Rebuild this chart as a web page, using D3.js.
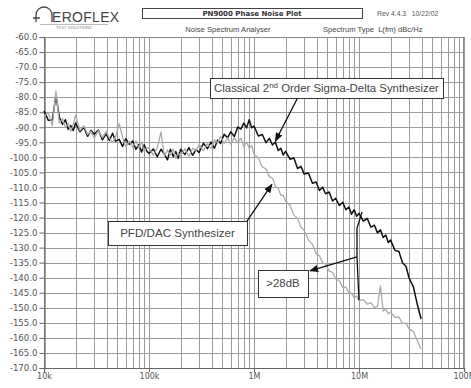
<!DOCTYPE html>
<html><head><meta charset="utf-8">
<script src="https://cdn.jsdelivr.net/npm/d3@7"></script>
<style>body{margin:0;background:#fff}svg{display:block}</style>
</head><body>
<svg id="c" width="471" height="388"></svg>
<script>
// ---- data (offset frequency in kHz, phase noise in dBc/Hz) ----
const freqKHz = [
  10,11,12,13,14,15,16,17,18,19,20,22,24,26,28,30,33,36,39,42,45,48,52,56,60,65,70,75,80,85,90,95,
  100,110,120,130,140,150,160,170,180,190,200,220,240,260,280,300,330,360,390,420,450,480,520,560,600,650,700,750,800,850,900,950,
  1000,1100,1200,1300,1400,1500,1600,1700,1800,1900,2000,2200,2400,2600,2800,3000,3300,3600,3900,4200,4500,4800,5200,5600,6000,6500,7000,7500,8000,8500,9000,9500,
  10000,11000,12000,13000,14000,15000,16000,17000,18000,19000,20000,22000,24000,26000,28000,30000,33000,36000,39000
];
const sigmaDeltaDb = [
  -84.5,-87.7,-87.6,-79.5,-86.7,-89.0,-87.5,-90.7,-89.4,-91.1,-88.6,-91.5,-90.1,-93.0,-91.0,-92.3,-90.9,-94.2,-92.2,-94.4,-92.0,-94.6,-94.0,-96.4,-93.8,-95.7,-94.6,-97.3,-95.8,-98.2,-95.8,-97.9,
  -98.7,-97.2,-99.8,-97.3,-98.9,-100.8,-97.3,-99.7,-98.1,-100.3,-97.3,-99.1,-96.8,-99.3,-97.4,-98.4,-95.3,-97.1,-94.9,-97.0,-94.2,-95.4,-92.3,-93.5,-91.5,-93.1,-89.9,-90.6,-88.6,-90.2,-87.5,-90.2,
  -89.6,-92.9,-92.4,-95.1,-93.7,-95.9,-94.9,-97.7,-97.0,-99.2,-98.0,-100.6,-100.2,-103.7,-103.0,-105.5,-105.2,-108.6,-108.2,-111.0,-109.9,-112.1,-111.5,-114.5,-113.6,-116.0,-114.9,-117.4,-116.5,-118.9,-117.4,-119.6,
  -118.6,-121.2,-120.3,-123.2,-122.5,-125.1,-124.1,-126.6,-125.8,-128.3,-127.5,-130.9,-131.3,-135.1,-136.2,-140.1,-143.1,-149.0,-153.7
];
const pfdDacDb = [
  -86.4,-85.2,-89.5,-78.0,-88.6,-87.1,-90.2,-88.6,-91.3,-89.0,-86.0,-91.1,-89.5,-92.4,-91.3,-93.6,-91.1,-93.5,-91.4,-93.6,-95.1,-93.1,-88.8,-93.3,-96.5,-94.7,-96.6,-94.6,-96.8,-94.9,-98.1,-96.8,
  -96.9,-99.3,-96.8,-91.5,-99.6,-97.5,-99.3,-97.2,-100.3,-98.5,-99.5,-97.1,-99.7,-97.0,-97.8,-95.7,-97.8,-95.5,-97.1,-94.2,-95.2,-93.0,-95.4,-93.5,-95.6,-93.5,-95.2,-93.6,-96.5,-94.9,-97.0,-96.0,
  -99.0,-100.2,-103.2,-103.8,-106.4,-106.9,-109.6,-110.3,-112.6,-112.6,-114.6,-115.9,-119.2,-120.3,-123.2,-124.2,-127.5,-128.9,-131.9,-132.7,-135.1,-135.4,-137.8,-138.2,-140.4,-141.0,-143.2,-143.1,-145.0,-145.1,-146.6,-146.1,
  -147.6,-147.3,-148.8,-148.3,-149.9,-149.5,-142.7,-151.1,-150.5,-152.0,-151.4,-153.2,-153.1,-155.2,-155.1,-157.0,-157.9,-161.0,-163.7
];
const yTickValues = [-60,-65,-70,-75,-80,-85,-90,-95,-100,-105,-110,-115,-120,-125,-130,-135,-140,-145,-150,-155,-160,-165,-170];
const xTickValues = [1e4,1e5,1e6,1e7,1e8];
const xTickLabels = ["10k","100k","1M","10M","100M"];
const labelSigmaDelta = "Classical 2";
const labelPfd = "PFD/DAC Synthesizer";
const labelDiff = ">28dB";

// ---- layout ----
const plot = {left: 44, right: 464, top: 37, bottom: 368};
const svg = d3.select("#c");
const x = d3.scaleLog().domain([1e4, 1e8]).range([plot.left, plot.right]);
const y = d3.scaleLinear().domain([-170, -60]).range([plot.bottom, plot.top]);

// header
const hdr = svg.append("g");
hdr.append("path")
  .attr("d", "M36,22 L36,15 A8,8 0 0 1 52,15 L52,22 M33,18 L40,18")
  .attr("fill","none").attr("stroke","#444").attr("stroke-width",1.3);
hdr.append("text").attr("x",52).attr("y",22).text("EROFLEX")
  .attr("font-family","Liberation Sans, Arial").attr("font-size",14).attr("fill","#444").attr("letter-spacing","0.3");
hdr.append("line").attr("x1",40).attr("x2",108).attr("y1",24.5).attr("y2",24.5).attr("stroke","#888").attr("stroke-width",0.6);
hdr.append("text").attr("x",56).attr("y",29).text("TEST SOLUTIONS")
  .attr("font-family","DejaVu Sans").attr("font-size",4.2).attr("fill","#888");
hdr.append("rect").attr("x",142.5).attr("y",8.5).attr("width",220).attr("height",10)
  .attr("fill","#fff").attr("stroke","#444").attr("stroke-width",1);
hdr.append("text").attr("x",252).attr("y",16.3).attr("text-anchor","middle").text("PN9000 Phase Noise Plot")
  .attr("font-family","DejaVu Sans").attr("font-weight","bold").attr("font-size",7).attr("fill","#333");
hdr.append("text").attr("x",377).attr("y",16).text("Rev 4.4.3   10/22/02")
  .attr("font-family","Liberation Sans, Arial").attr("font-size",6.8).attr("fill","#555").attr("xml:space","preserve");
hdr.append("text").attr("x",228).attr("y",32).attr("text-anchor","middle").text("Noise Spectrum Analyser")
  .attr("font-family","Liberation Sans, Arial").attr("font-size",7.6).attr("fill","#444");
hdr.append("text").attr("x",323).attr("y",32).text("Spectrum Type  L(fm) dBc/Hz")
  .attr("font-family","Liberation Sans, Arial").attr("font-size",7.6).attr("fill","#444").attr("xml:space","preserve");

// grid
const grid = svg.append("g");
grid.selectAll("line.h").data(yTickValues).join("line")
  .attr("x1",plot.left).attr("x2",plot.right)
  .attr("y1",d=>Math.round(y(d))+0.5).attr("y2",d=>Math.round(y(d))+0.5)
  .attr("stroke","#9a9a9a").attr("stroke-width",1);
grid.selectAll("line.v").data(x.ticks()).join("line")
  .attr("y1",plot.top).attr("y2",plot.bottom)
  .attr("x1",d=>Math.round(x(d))+0.5).attr("x2",d=>Math.round(x(d))+0.5)
  .attr("stroke","#9a9a9a").attr("stroke-width",1);
svg.append("rect").attr("x",plot.left+0.5).attr("y",plot.top+0.5)
  .attr("width",plot.right-plot.left-1).attr("height",plot.bottom-plot.top)
  .attr("fill","none").attr("stroke","#8a8a8a").attr("stroke-width",1);

// axes
const yAxis = d3.axisLeft(y).tickValues(yTickValues).tickFormat(d=>d.toFixed(1)).tickSize(5).tickPadding(2);
const gy = svg.append("g").attr("transform",`translate(${plot.left+0.5},0)`).call(yAxis);
const xAxis = d3.axisBottom(x).tickValues(xTickValues).tickFormat((d,i)=>xTickLabels[i]).tickSize(4).tickPadding(1);
const gx = svg.append("g").attr("transform",`translate(0,${plot.bottom})`).call(xAxis);
[gy,gx].forEach(g=>{
  g.select(".domain").attr("stroke","#666").attr("stroke-width",1.2);
  g.selectAll(".tick line").attr("stroke","#666");
  g.selectAll("text").attr("font-family","DejaVu Sans").attr("font-size",8.6).attr("fill","#555");
});
gx.selectAll("text").attr("font-size",8);

// traces
const rowsSD = freqKHz.map((f,i)=>({f:f*1000, v:sigmaDeltaDb[i]}));
const rowsPFD = freqKHz.map((f,i)=>({f:f*1000, v:pfdDacDb[i]}));
const line = d3.line().x(d=>x(d.f)).y(d=>y(d.v));
svg.append("path").datum(rowsSD).attr("d",line).attr("fill","none")
  .attr("stroke","#111").attr("stroke-width",1.5).attr("stroke-linejoin","round");
svg.append("path").datum(rowsPFD).attr("d",line).attr("fill","none")
  .attr("stroke","#ababab").attr("stroke-width",1.3).attr("stroke-linejoin","round");

// annotations (anchored in data space)
const defs = svg.append("defs");
defs.append("marker").attr("id","ah").attr("viewBox","0 0 10 10").attr("refX",9).attr("refY",5)
  .attr("markerWidth",7).attr("markerHeight",7).attr("orient","auto-start-reverse")
  .append("path").attr("d","M0,1 L10,5 L0,9 z").attr("fill","#111");
const P = (f,v)=>[x(f),y(v)];
const ann = svg.append("g");
function box(f0,v0,f1,v1){
  const [x0,y0]=P(f0,v0),[x1,y1]=P(f1,v1);
  ann.append("rect").attr("x",Math.round(x0)+0.5).attr("y",Math.round(y0)+0.5)
    .attr("width",Math.round(x1-x0)).attr("height",Math.round(y1-y0))
    .attr("fill","#fff").attr("stroke","#333").attr("stroke-width",1);
  return [x0,y0,x1,y1];
}
function arrow(pts, head){
  ann.append("path").attr("d",d3.line()(pts.map(p=>P(p[0],p[1]))))
    .attr("fill","none").attr("stroke","#111").attr("stroke-width",1.3)
    .attr("marker-end",head?"url(#ah)":null);
}
arrow([[2.57e6,-80.6],[1.6e6,-94.6]], true);
let b = box(3.81e5,-73.6,6.3e7,-80.3);
const t1 = ann.append("text").attr("x",(b[0]+b[2])/2).attr("y",b[1]+14.5).attr("text-anchor","middle")
  .attr("font-family","Liberation Sans, Arial").attr("font-size",11.4).attr("fill","#444");
t1.append("tspan").text(labelSigmaDelta);
t1.append("tspan").text("nd").attr("font-size",8).attr("dy",-4.5);
t1.append("tspan").text(" Order Sigma-Delta Synthesizer").attr("dy",4.5);
arrow([[8.57e5,-121.2],[1.48e6,-109.0]], true);
b = box(4.07e4,-121.1,8.57e5,-129.1);
ann.append("text").attr("x",(b[0]+b[2])/2).attr("y",b[1]+16.5).attr("text-anchor","middle").text(labelPfd)
  .attr("font-family","Liberation Sans, Arial").attr("font-size",11.6).attr("fill","#444");
arrow([[1.07e7,-118.1],[9.57e6,-123.5],[9.57e6,-133.1],[1.0e7,-147.4]], false);
arrow([[9.57e6,-133.1],[3.41e6,-137.7]], true);
b = box(1.09e6,-137.4,3.27e6,-146.4);
ann.append("text").attr("x",(b[0]+b[2])/2).attr("y",b[1]+17.5).attr("text-anchor","middle").text(labelDiff)
  .attr("font-family","Liberation Sans, Arial").attr("font-size",11.4).attr("fill","#444");
</script>
</body></html>
